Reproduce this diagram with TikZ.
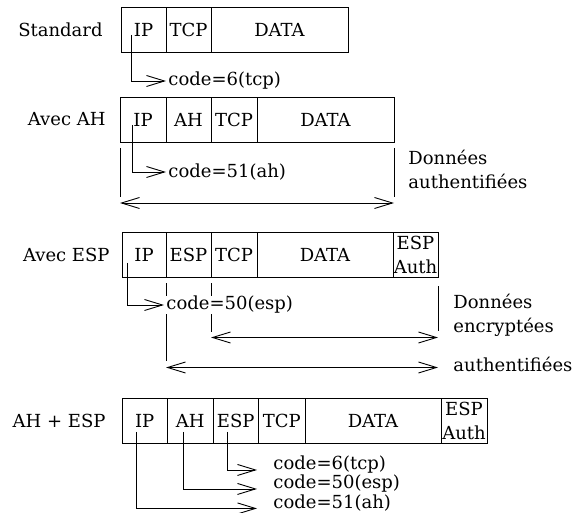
\documentclass[tikz,border=0pt]{standalone}
\usepackage{fontspec}
\setmainfont{DejaVu Serif}
\usepackage{tikz}
\usetikzlibrary{positioning, arrows.meta}

\begin{document}
\begin{tikzpicture}[x=1pt, y=-1pt, line width=0.9pt,
    font=\fontsize{18}{24}\selectfont,
    >={Straight Barb[length=18pt,width=11pt]},
    cell/.style={draw, minimum height=45pt, inner sep=0pt, outer sep=0pt, align=center},
    rowlbl/.style={inner sep=0pt},
    codelbl/.style={inner xsep=2pt, inner ysep=0pt, fill=white, anchor=west},
    note/.style={inner sep=0pt, align=left, anchor=west}]

   \useasboundingbox (0,0) rectangle (582,513);

   % Standard
   \node[cell, minimum width=45pt] (ip1) at (143.5,29.5) {IP};
   \node[cell, minimum width=45pt, right=0pt of ip1] (tcp1) {TCP};
   \node[cell, minimum width=137pt, right=0pt of tcp1] (data1) {DATA};
   \node[rowlbl, left=18pt of ip1] (std) {Standard};
   \node[codelbl] (code1) at (166,81) {code=6(tcp)};
   \draw[->] ([xshift=-12.5pt, yshift=-5.5pt]ip1.center) |- (code1.west);

   % Avec AH
   \node[cell, minimum width=46pt] (ip2) at (143,119.5) {IP};
   \node[cell, minimum width=45pt, right=0pt of ip2] (ah2) {AH};
   \node[cell, minimum width=46pt, right=0pt of ah2] (tcp2) {TCP};
   \node[cell, minimum width=137pt, right=0pt of tcp2] (data2) {DATA};
   \node[rowlbl, left=14pt of ip2] (avah) {Avec AH};
   \node[codelbl] (code2) at (166,172) {code=51(ah)};
   \node[note] (auth2) at (408,169) {Données\\authentifiées};
   \draw[->] ([xshift=-11pt, yshift=-5.5pt]ip2.center) |- (code2.west);
   \draw ([yshift=-6pt]ip2.south west) -- ++(0,49);
   \draw ([yshift=-6pt]data2.south east) -- ++(0,49);
   \draw[<->] ([yshift=-61pt]ip2.south west) -- ([yshift=-61pt]data2.south east);

   % Avec ESP
   \node[cell, minimum width=44pt] (ip3) at (144,255) {IP};
   \node[cell, minimum width=45pt, right=0pt of ip3] (esp3) {ESP};
   \node[cell, minimum width=46pt, right=0pt of esp3] (tcp3) {TCP};
   \node[cell, minimum width=136pt, right=0pt of tcp3] (data3) {DATA};
   \node[cell, minimum width=45pt, right=0pt of data3] (auth3) {ESP\\Auth};
   \node[rowlbl, left=12pt of ip3] (avesp) {Avec ESP};
   \draw ([yshift=-6pt]esp3.south west) -- ++(0,78);
   \draw ([yshift=-6pt]tcp3.south west) -- ++(0,49);
   \draw ([yshift=-9pt]auth3.south east) -- ++(0,45);
   \draw[<->] ([yshift=-60pt]tcp3.south west) -- ([yshift=-60pt]auth3.south east);
   \draw[<->] ([yshift=-90pt]esp3.south west) -- ([yshift=-90pt]auth3.south east);
   \node[codelbl] (code3) at (164,305) {code=50(esp)};
   \draw[->] ([xshift=-17pt, yshift=-8pt]ip3.center) |- (code3.west);
   \node[note] (crypt3) at (453,315) {Données\\encryptées};
   \node[note] (signed3) at (453,364) {authentifiées};

   % AH + ESP
   \node[cell, minimum width=45.5pt] (ip4) at (144.75,421) {IP};
   \node[cell, minimum width=45.5pt, right=0pt of ip4] (ah4) {AH};
   \node[cell, minimum width=45.5pt, right=0pt of ah4] (esp4) {ESP};
   \node[cell, minimum width=46.5pt, right=0pt of esp4] (tcp4) {TCP};
   \node[cell, minimum width=136pt, right=0pt of tcp4] (data4) {DATA};
   \node[cell, minimum width=46pt, right=0pt of data4] (auth4) {ESP\\Auth};
   \node[rowlbl, left=16pt of ip4] (ahesp) {AH + ESP};
   \node[codelbl] (code4a) at (271,465) {code=6(tcp)};
   \node[codelbl] (code4b) at (271,484) {code=50(esp)};
   \node[codelbl] (code4c) at (271,503) {code=51(ah)};
   \draw[->] ([xshift=-8pt, yshift=-11pt]esp4.center) |- ([xshift=-14pt]code4a.base west);
   \draw[->] ([xshift=-7pt, yshift=-11pt]ah4.center) |- ([xshift=-14pt]code4b.base west);
   \draw[->] ([xshift=-8pt, yshift=-11pt]ip4.center) |- ([xshift=-14pt]code4c.base west);
\end{tikzpicture}
\end{document}
